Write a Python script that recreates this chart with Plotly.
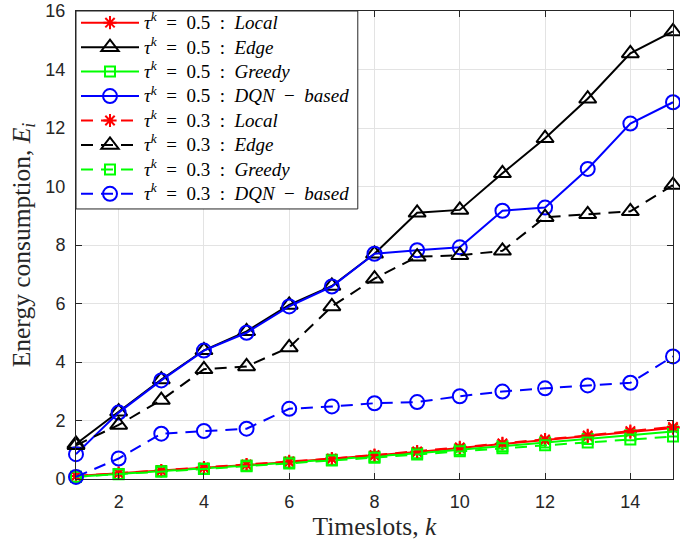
import plotly.graph_objects as go

# Timeslots k
timeslots = list(range(1, 16))

# Energy consumption E_i for tau^k = 0.5
local_05 = [0.10, 0.19, 0.28, 0.38, 0.48, 0.58, 0.69, 0.80, 0.92, 1.06, 1.20, 1.33, 1.46, 1.60, 1.74]
edge_05 = [1.20, 2.30, 3.40, 4.40, 5.05, 5.95, 6.60, 7.70, 9.10, 9.20, 10.45, 11.65, 13.00, 14.55, 15.30]
greedy_05 = [0.08, 0.17, 0.27, 0.36, 0.46, 0.56, 0.66, 0.76, 0.88, 1.00, 1.12, 1.25, 1.37, 1.50, 1.62]
dqn_05 = [0.85, 2.27, 3.37, 4.39, 5.00, 5.90, 6.58, 7.70, 7.82, 7.92, 9.17, 9.28, 10.60, 12.15, 12.88]

# Energy consumption E_i for tau^k = 0.3
local_03 = [0.10, 0.20, 0.29, 0.39, 0.49, 0.60, 0.70, 0.82, 0.94, 1.08, 1.22, 1.35, 1.49, 1.64, 1.78]
edge_03 = [1.15, 1.85, 2.70, 3.75, 3.85, 4.50, 5.90, 6.85, 7.60, 7.65, 7.80, 8.95, 9.05, 9.15, 10.05]
greedy_03 = [0.08, 0.16, 0.25, 0.34, 0.44, 0.53, 0.63, 0.73, 0.84, 0.95, 1.05, 1.15, 1.25, 1.35, 1.45]
dqn_03 = [0.07, 0.70, 1.55, 1.64, 1.72, 2.40, 2.48, 2.59, 2.63, 2.83, 2.99, 3.10, 3.20, 3.29, 4.19]

x_ticks = [2, 4, 6, 8, 10, 12, 14]
y_ticks = [0, 2, 4, 6, 8, 10, 12, 14, 16]

series = [
    ("0.5", "Local", local_05, "#ff0000", "asterisk-open", 11, "solid"),
    ("0.5", "Edge", edge_05, "#000000", "triangle-up-open", 15, "solid"),
    ("0.5", "Greedy", greedy_05, "#00ff00", "square-open", 10, "solid"),
    ("0.5", "DQN − based", dqn_05, "#0000ff", "circle-open", 14, "solid"),
    ("0.3", "Local", local_03, "#ff0000", "asterisk-open", 11, "12px,8px"),
    ("0.3", "Edge", edge_03, "#000000", "triangle-up-open", 15, "12px,8px"),
    ("0.3", "Greedy", greedy_03, "#00ff00", "square-open", 10, "12px,8px"),
    ("0.3", "DQN − based", dqn_03, "#0000ff", "circle-open", 14, "12px,8px"),
]

SP = "\u2002"  # en space, mimics math-mode spacing around relations


def legend_label(tau, method):
    words = f"{SP}−{SP}".join(f"<i>{w}</i>" for w in method.split(" − "))
    text = f"<i>τ</i><sup><i>k</i></sup>{SP}={SP}{tau}{SP}:{SP}{words}"
    return f"<span style='font-size:19px'>{text}</span>"


fig = go.Figure()
for tau, method, values, color, symbol, msize, dash in series:
    fig.add_trace(go.Scatter(
        x=timeslots,
        y=values,
        mode="lines+markers",
        name=legend_label(tau, method),
        line=dict(color=color, width=2, dash=dash),
        marker=dict(symbol=symbol, size=msize, color=color,
                    line=dict(color=color, width=2)),
        cliponaxis=False,
    ))

axis_common = dict(
    showline=True,
    linecolor="#262626",
    linewidth=1,
    mirror="ticks",
    ticks="inside",
    ticklen=6,
    tickcolor="#262626",
    showgrid=True,
    gridcolor="#e3e3e3",
    gridwidth=1,
    zeroline=False,
    tickfont=dict(family="Liberation Sans, Arial, sans-serif", size=18, color="#262626"),
)

title_font = dict(family="Liberation Serif, serif", size=25.5, color="#262626")

# Framed white panel behind the legend entries (top-left corner of the axes)
fig.add_shape(
    type="rect", xref="paper", yref="paper",
    x0=0.0, x1=0.472, y0=0.577, y1=1.0,
    fillcolor="white", line=dict(color="#262626", width=1),
    layer="above",
)

fig.update_layout(
    width=680,
    height=545,
    margin=dict(l=76, r=7, t=11, b=66, autoexpand=False),
    paper_bgcolor="white",
    plot_bgcolor="white",
    xaxis=dict(
        range=[1, 15],
        tickvals=x_ticks,
        ticklabelstandoff=6,
        title=dict(text="Timeslots, <i>k</i>", font=title_font, standoff=3),
        **axis_common,
    ),
    yaxis=dict(
        range=[0, 16],
        tickvals=y_ticks,
        ticklabelstandoff=6,
        title=dict(text="Energy consumption, <i>E<sub>i</sub></i>", font=title_font, standoff=7),
        **axis_common,
    ),
    legend=dict(
        x=0.0, y=1.0118, xanchor="left", yanchor="top",
        bgcolor="rgba(0,0,0,0)",
        borderwidth=0,
        font=dict(family="Liberation Serif, serif", size=16.5, color="#000000"),
        itemwidth=58,
        tracegroupgap=0,
    ),
    showlegend=True,
)

fig.write_html("out.html")
